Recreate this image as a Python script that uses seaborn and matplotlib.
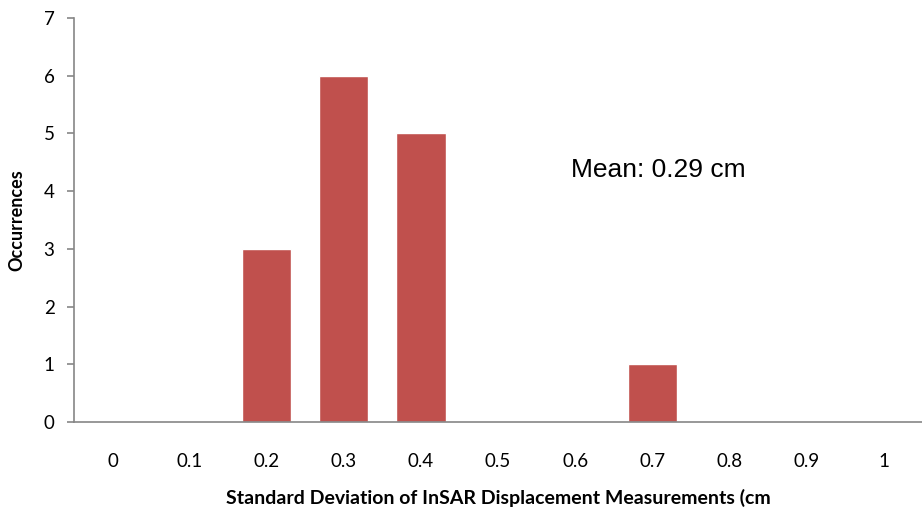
import matplotlib
matplotlib.use("Agg")
import matplotlib.pyplot as plt
import seaborn as sns
import pandas as pd

# Histogram of standard deviations, binned by 0.1 cm
bins = ["0", "0.1", "0.2", "0.3", "0.4", "0.5", "0.6", "0.7", "0.8", "0.9", "1"]
counts = [0, 0, 3, 6, 5, 0, 0, 1, 0, 0, 0]
mean_label = "Mean: 0.29 cm"

df = pd.DataFrame({"bin": bins, "count": counts})

sns.set_theme(style="white")
plt.rcParams["font.family"] = ["Lato", "DejaVu Sans"]

fig = plt.figure(figsize=(9.22, 5.08), dpi=100)
ax = fig.add_axes([74 / 922, 86 / 508, 848 / 922, 404 / 508])

sns.barplot(data=df, x="bin", y="count", order=bins, color="#C0504D",
            saturation=1, width=0.64, ax=ax)

ax.set_xlim(-0.5, len(bins) - 0.5)
ax.set_ylim(0, 7)
ax.set_yticks(range(0, 8))

spine_c = "#868686"
for side in ["top", "right"]:
    ax.spines[side].set_visible(False)
for side in ["left", "bottom"]:
    ax.spines[side].set_color(spine_c)
    ax.spines[side].set_linewidth(1.2)

# category ticks sit between bins, labels centred on each bin
ax.set_xticks([i - 0.5 for i in range(len(bins) + 1)], minor=True)
ax.set_xticks(range(len(bins)))
ax.set_xticklabels(bins)
ax.tick_params(axis="x", which="major", length=0, pad=22, labelsize=13.5, labelcolor="black")
ax.tick_params(axis="x", which="minor", length=5, width=1.2, color=spine_c, direction="out")
ax.tick_params(axis="y", length=5, width=1.2, color=spine_c, direction="out",
               left=True, pad=9, labelsize=13.5, labelcolor="black")

ax.set_xlabel("Standard Deviation of InSAR Displacement Measurements (cm",
              fontsize=14, fontweight="bold", labelpad=14, color="black")
ax.set_ylabel("Occurrences", fontsize=13, fontweight="bold", labelpad=13, color="black")

ax.text(0.586, 4.37, mean_label, transform=ax.get_yaxis_transform(),
        fontsize=19, family=["Liberation Sans", "DejaVu Sans"], color="black",
        ha="left", va="center")

fig.savefig("out.png", dpi=100)
